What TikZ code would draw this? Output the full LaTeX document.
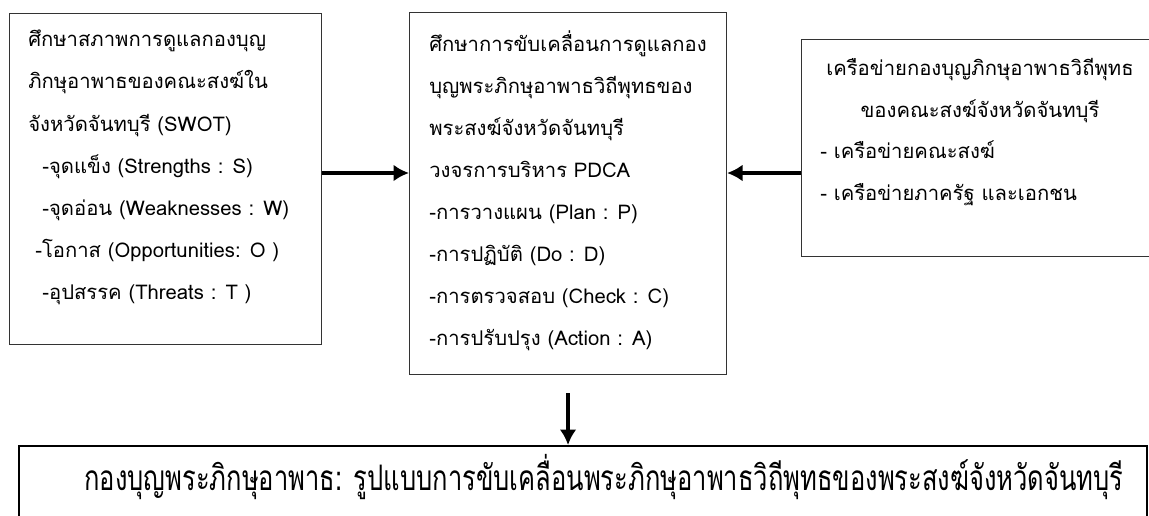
\documentclass[tikz,border=0pt]{standalone}
\usepackage{fontspec}
\newfontfamily\thai[Script=Thai]{Loma}
\usetikzlibrary{arrows.meta}
\tikzset{>={Latex[length=11pt,width=12pt]}}
\tikzset{
    box/.style={draw=black!80, line width=0.75pt, anchor=north west, inner sep=0pt},
    txt/.style={anchor=north west, align=left, inner sep=0pt,
        font=\thai\fontsize{14.4}{29.9}\selectfont},
    flow/.style={->, line width=2.8pt}
}
\begin{document}
\begin{tikzpicture}[x=0.025cm, y=-0.025cm]
    \clip (0, 0) rectangle (1149, 515);
    % boxes
    \node[box, minimum width=312*0.025cm, minimum height=331*0.025cm](lbox)at(9, 13){};
    \node[box, minimum width=317*0.025cm, minimum height=362*0.025cm](mbox)at(409, 12){};
    \node[box, minimum width=360*0.025cm, minimum height=217*0.025cm](rbox)at(801, 39){};
    \node[box, draw=black, line width=1.5pt, minimum width=1128*0.025cm, minimum height=100*0.025cm](bbox)at(18, 445){};
    % texts
    \node[txt](ltxt)at(28, 30){ศึกษาสภาพการดูแลกองบุญ\\ภิกษุอาพาธของคณะสงฆ์ใน\\จังหวัดจันทบุรี (SWOT)\\
        \hspace{10pt}-จุดแข็ง (Strengths : S)\\\hspace{10pt}-จุดอ่อน (Weaknesses : W)\\
        \hspace{5pt}-โอกาส (Opportunities: O )\\\hspace{10pt}-อุปสรรค (Threats : T )};
    \node[txt](mtxt)at(429, 30){ศึกษาการขับเคลื่อนการดูแลกอง\\บุญพระภิกษุอาพาธวิถีพุทธของ\\พระสงฆ์จังหวัดจันทบุรี\\
        วงจรการบริหาร PDCA\\-การวางแผน (Plan : P)\\-การปฏิบัติ (Do : D)\\-การตรวจสอบ (Check : C)\\-การปรับปรุง (Action : A)};
    \node[txt, anchor=north, align=center](rhead)at(980, 58){เครือข่ายกองบุญภิกษุอาพาธวิถีพุทธ\\ของคณะสงฆ์จังหวัดจันทบุรี};
    \node[txt](rtxt)at(820, 140){- เครือข่ายคณะสงฆ์\\- เครือข่ายภาครัฐ และเอกชน};
    \node[anchor=center, inner sep=0pt, font=\thai\fontsize{25}{30}\selectfont, xscale=0.726](btxt)at(604, 477)
        {กองบุญพระภิกษุอาพาธ: รูปแบบการขับเคลื่อนพระภิกษุอาพาธวิถีพุทธของพระสงฆ์จังหวัดจันทบุรี};
    % arrows
    \coordinate(ya)at(0, 173);
    \draw[flow](lbox.east |- ya)--(mbox.west |- ya);
    \draw[flow](rbox.west |- ya)--(mbox.east |- ya);
    \draw[flow, shorten <=12.8pt](mbox.south)--(mbox.south |- bbox.north);
\end{tikzpicture}
\end{document}
